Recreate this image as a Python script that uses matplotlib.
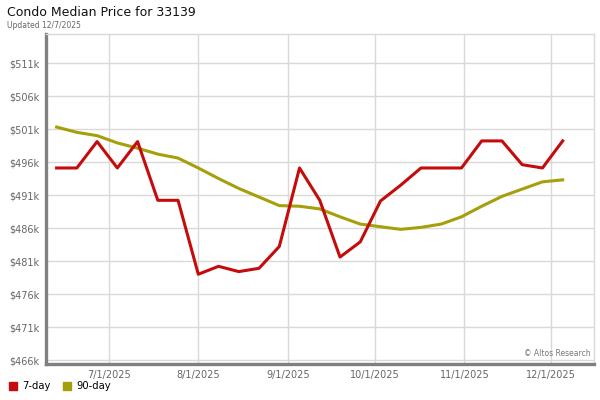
import pandas as pd
import matplotlib.pyplot as plt
import matplotlib.dates as mdates
from matplotlib.lines import Line2D

# weekly data points
dates = ['2025-06-13', '2025-06-20', '2025-06-27', '2025-07-04', '2025-07-11',
         '2025-07-18', '2025-07-25', '2025-08-01', '2025-08-08', '2025-08-15',
         '2025-08-22', '2025-08-29', '2025-09-05', '2025-09-12', '2025-09-19',
         '2025-09-26', '2025-10-03', '2025-10-10', '2025-10-17', '2025-10-24',
         '2025-10-31', '2025-11-07', '2025-11-14', '2025-11-21', '2025-11-28',
         '2025-12-05']
day7 = [495.1, 495.1, 499.1, 495.1, 499.1, 490.2, 490.2, 479.0, 480.2, 479.4,
        479.9, 483.2, 495.1, 490.2, 481.6, 483.9, 490.1, 492.5, 495.1, 495.1,
        495.1, 499.2, 499.2, 495.6, 495.1, 499.2]
day90 = [501.3, 500.5, 500.0, 498.9, 498.1, 497.2, 496.6, 495.1, 493.5, 492.0,
         490.7, 489.4, 489.3, 488.9, 487.7, 486.6, 486.2, 485.8, 486.1, 486.6,
         487.7, 489.3, 490.8, 491.9, 493.0, 493.3]
yticks = [466, 471, 476, 481, 486, 491, 496, 501, 506, 511]
xticks = ['2025-07-01', '2025-08-01', '2025-09-01', '2025-10-01', '2025-11-01', '2025-12-01']

x = pd.to_datetime(dates)
red = '#C40C0C'
olive = '#A59F0A'

fig = plt.figure(figsize=(6, 4), dpi=100)
ax = fig.add_axes([46 / 600, 36 / 400, 548 / 600, 330 / 400])

ax.plot(x, day7, color=red, linewidth=2.2, zorder=3)
ax.plot(x, day90, color=olive, linewidth=2.2, zorder=2)

ax.set_ylim(465.4, 515.4)
ax.set_xlim(pd.Timestamp('2025-06-09 08:00'), pd.Timestamp('2025-12-15 20:00'))
ax.set_yticks(yticks)
ax.set_yticklabels(['$%dk' % v for v in yticks])
ax.set_xticks(pd.to_datetime(xticks))
ax.xaxis.set_major_formatter(plt.FuncFormatter(
    lambda v, p: (lambda d: f'{d.month}/{d.day}/{d.year}')(mdates.num2date(v))))

ax.grid(True, color='#d9d9d9', linewidth=1)
ax.set_axisbelow(True)
ax.tick_params(length=0, labelsize=7, colors='#666666')
ax.tick_params(axis='y', pad=5)
ax.tick_params(axis='x', pad=4)

for s in ['left', 'bottom']:
    ax.spines[s].set_color('#808080')
    ax.spines[s].set_linewidth(2.4)
for s in ['top', 'right']:
    ax.spines[s].set_color('#d9d9d9')
    ax.spines[s].set_linewidth(1)

ax.text(0.993, 0.033, '\u00a9 Altos Research', transform=ax.transAxes,
        ha='right', va='center', fontsize=5.5, color='#777777')

fig.text(7 / 600, 1 - 12 / 400, 'Condo Median Price for 33139', fontsize=9,
         va='center', ha='left', color='#111111')
fig.text(7 / 600, 1 - 25 / 400, 'Updated 12/7/2025', fontsize=5.5,
         va='center', ha='left', color='#666666')

handles = [Line2D([], [], marker='s', linestyle='', color=red, markersize=5.5),
           Line2D([], [], marker='s', linestyle='', color=olive, markersize=5.5)]
fig.legend(handles, ['7-day', '90-day'], loc='center left',
           bbox_to_anchor=(0.0, 14 / 400), ncol=2, frameon=False, fontsize=7.2,
           handlelength=1.0, handletextpad=0.4, columnspacing=1.2, borderpad=0.3)

plt.savefig('out.png', dpi=100)
